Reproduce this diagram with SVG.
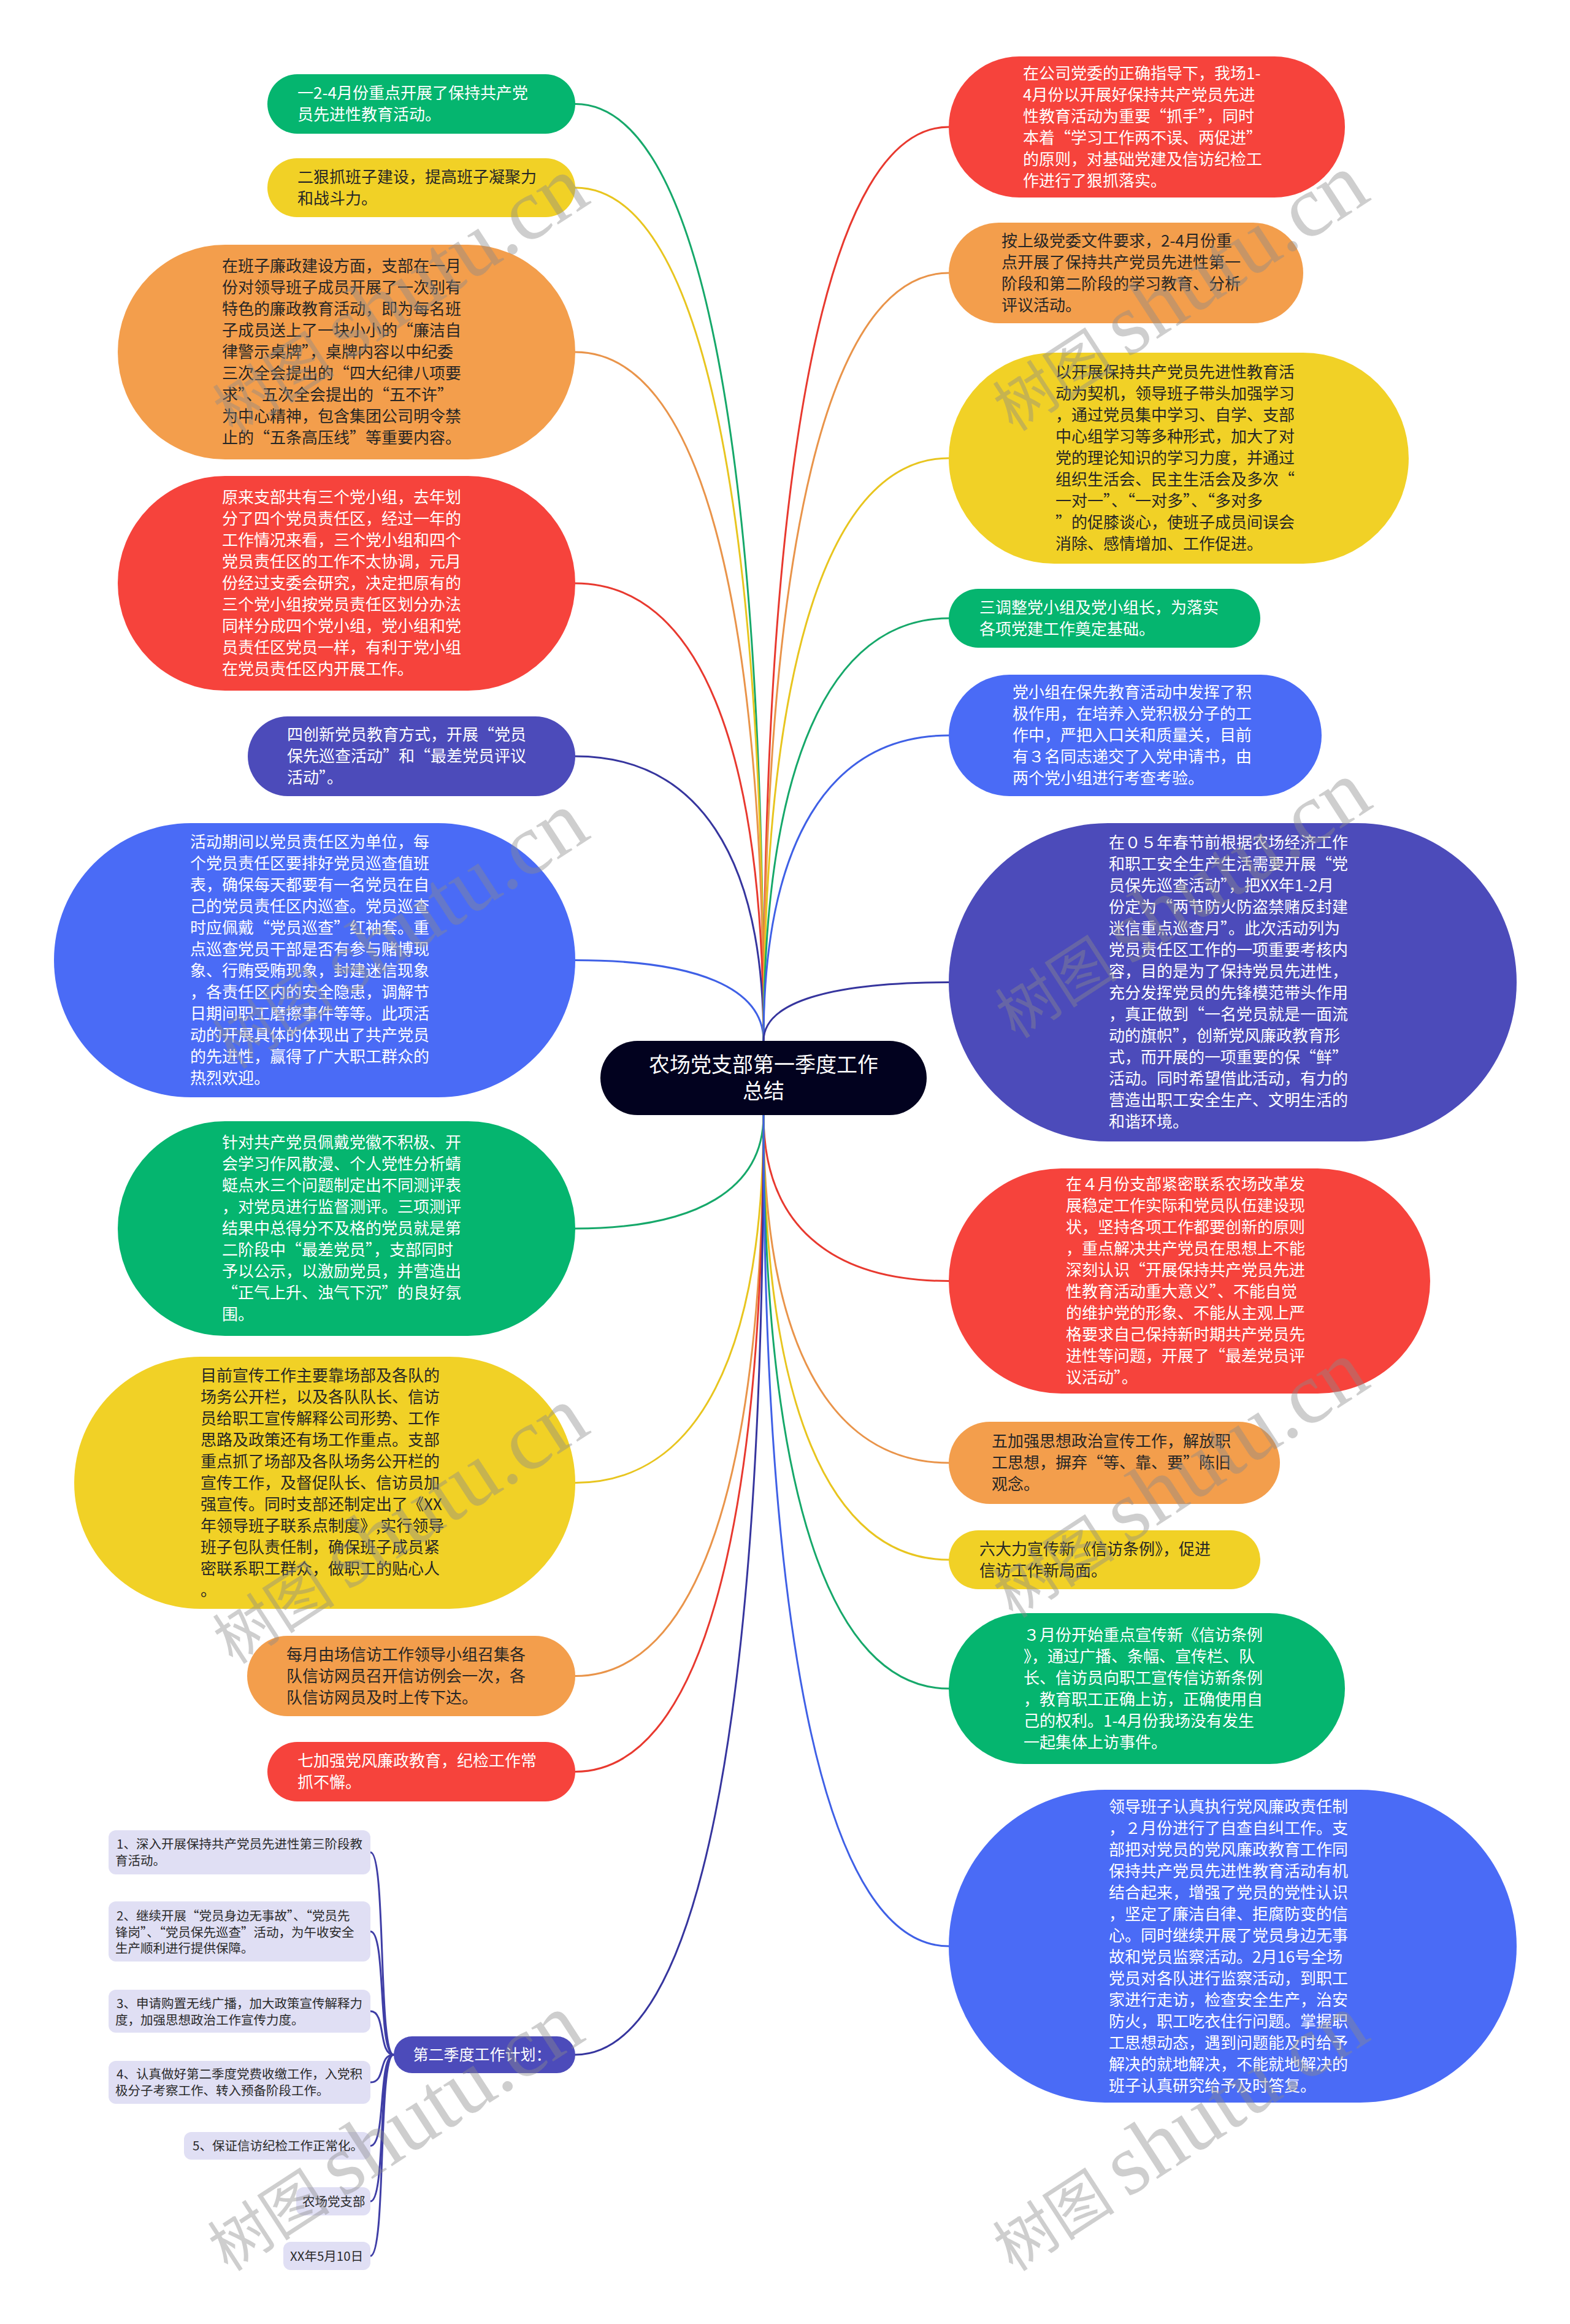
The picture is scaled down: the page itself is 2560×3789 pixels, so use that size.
<svg xmlns="http://www.w3.org/2000/svg" width="2560" height="3789" viewBox="0 0 2560 3789">
<style>
.t{font-family:"Noto Sans CJK SC","Noto Sans",sans-serif;font-size:26px}
.s{font-family:"Noto Sans CJK SC","Noto Sans",sans-serif;font-size:20.5px;fill:#2a2a2a}
.w{fill:#ffffff}
.d{fill:#262626}
.c{fill:none;stroke-width:3;stroke-linecap:round}
.wm{font-family:"Liberation Serif","Noto Sans CJK SC",serif;fill:#8a8a8a;fill-opacity:0.42}
</style>
<rect width="2560" height="3789" fill="#ffffff"/>
<g id="connectors">
<path class="c" stroke="#16a86a" d="M938,169.5 C1137.5,169.5 1245,704.1 1245,1697"/>
<path class="c" stroke="#e8c51f" d="M938,306 C1137.5,306 1245,792.9 1245,1697"/>
<path class="c" stroke="#e9944a" d="M938,574 C1137.5,574 1245,967 1245,1697"/>
<path class="c" stroke="#e8392f" d="M938,951 C1137.5,951 1245,1212 1245,1697"/>
<path class="c" stroke="#36359e" d="M938,1233 C1137.5,1233 1245,1395.4 1245,1697"/>
<path class="c" stroke="#3f60e6" d="M938,1565.5 C1137.5,1565.5 1245,1611.5 1245,1697"/>
<path class="c" stroke="#16a86a" d="M938,2003 C1137.5,2003 1245,1938.3 1245,1818"/>
<path class="c" stroke="#e8c51f" d="M938,2417.5 C1137.5,2417.5 1245,2207.7 1245,1818"/>
<path class="c" stroke="#e9944a" d="M938,2732.5 C1137.5,2732.5 1245,2412.4 1245,1818"/>
<path class="c" stroke="#e8392f" d="M938,2888.5 C1137.5,2888.5 1245,2513.8 1245,1818"/>
<path class="c" stroke="#36359e" d="M938,3350 C1137.5,3350 1245,2813.8 1245,1818"/>
<path class="c" stroke="#e8392f" d="M1547,207 C1351,207 1245,728.5 1245,1697"/>
<path class="c" stroke="#e9944a" d="M1547,445 C1351,445 1245,883.2 1245,1697"/>
<path class="c" stroke="#e8c51f" d="M1547,747 C1351,747 1245,1079.5 1245,1697"/>
<path class="c" stroke="#16a86a" d="M1547,1008 C1351,1008 1245,1249.2 1245,1697"/>
<path class="c" stroke="#3f60e6" d="M1547,1199 C1351,1199 1245,1373.3 1245,1697"/>
<path class="c" stroke="#36359e" d="M1547,1601.5 C1351,1601.5 1245,1634.9 1245,1697"/>
<path class="c" stroke="#e8392f" d="M1547,2088.5 C1351,2088.5 1245,1993.8 1245,1818"/>
<path class="c" stroke="#e9944a" d="M1547,2385 C1351,2385 1245,2186.5 1245,1818"/>
<path class="c" stroke="#e8c51f" d="M1547,2543 C1351,2543 1245,2289.2 1245,1818"/>
<path class="c" stroke="#16a86a" d="M1547,2753 C1351,2753 1245,2425.7 1245,1818"/>
<path class="c" stroke="#3f60e6" d="M1547,3173 C1351,3173 1245,2698.7 1245,1818"/>
<path class="c" stroke="#3f3ea6" d="M642,3350 C616,3350 630,3020 604,3020"/>
<path class="c" stroke="#3f3ea6" d="M642,3350 C616,3350 630,3149 604,3149"/>
<path class="c" stroke="#3f3ea6" d="M642,3350 C616,3350 630,3279 604,3279"/>
<path class="c" stroke="#3f3ea6" d="M642,3350 C616,3350 630,3395 604,3395"/>
<path class="c" stroke="#3f3ea6" d="M642,3350 C616,3350 630,3498.5 604,3498.5"/>
<path class="c" stroke="#3f3ea6" d="M642,3350 C616,3350 630,3589 604,3589"/>
<path class="c" stroke="#3f3ea6" d="M642,3350 C616,3350 630,3678 604,3678"/>
</g>
<g id="center">
<rect x="979" y="1697" width="532" height="121" rx="60.5" fill="#02021f"/>
<text x="1245" y="1748" font-family="Noto Sans CJK SC, sans-serif" font-size="34" fill="#fff" text-anchor="middle"><tspan x="1245" y="1748">农场党支部第一季度工作</tspan><tspan x="1245" y="1791">总结</tspan></text>
</g>
<g id="l1">
<rect x="436" y="121" width="502" height="97" rx="48.5" fill="#05b56f"/>
<text class="t w"><tspan x="485" y="161">一2-4月份重点开展了保持共产党</tspan><tspan x="485" y="196">员先进性教育活动。</tspan></text>
</g>
<g id="l2">
<rect x="436" y="258" width="502" height="96" rx="48" fill="#f1d126"/>
<text class="t d"><tspan x="485" y="297.5">二狠抓班子建设，提高班子凝聚力</tspan><tspan x="485" y="332.5">和战斗力。</tspan></text>
</g>
<g id="l3">
<rect x="192" y="399" width="746" height="350" rx="175" fill="#f39e4c"/>
<text class="t d"><tspan x="362" y="443">在班子廉政建设方面，支部在一月</tspan><tspan x="362" dy="35">份对领导班子成员开展了一次别有</tspan><tspan x="362" dy="35">特色的廉政教育活动，即为每名班</tspan><tspan x="362" dy="35">子成员送上了一块小小的“廉洁自</tspan><tspan x="362" dy="35">律警示桌牌”，桌牌内容以中纪委</tspan><tspan x="362" dy="35">三次全会提出的“四大纪律八项要</tspan><tspan x="362" dy="35">求”、五次全会提出的“五不许”</tspan><tspan x="362" dy="35">为中心精神，包含集团公司明令禁</tspan><tspan x="362" dy="35">止的“五条高压线”等重要内容。</tspan></text>
</g>
<g id="l4">
<rect x="192" y="776" width="746" height="350" rx="175" fill="#f6433c"/>
<text class="t w"><tspan x="362" y="820">原来支部共有三个党小组，去年划</tspan><tspan x="362" dy="35">分了四个党员责任区，经过一年的</tspan><tspan x="362" dy="35">工作情况来看，三个党小组和四个</tspan><tspan x="362" dy="35">党员责任区的工作不太协调，元月</tspan><tspan x="362" dy="35">份经过支委会研究，决定把原有的</tspan><tspan x="362" dy="35">三个党小组按党员责任区划分办法</tspan><tspan x="362" dy="35">同样分成四个党小组，党小组和党</tspan><tspan x="362" dy="35">员责任区党员一样，有利于党小组</tspan><tspan x="362" dy="35">在党员责任区内开展工作。</tspan></text>
</g>
<g id="l5">
<rect x="404" y="1168" width="534" height="130" rx="65" fill="#4c4bba"/>
<text class="t w"><tspan x="468" y="1207">四创新党员教育方式，开展“党员</tspan><tspan x="468" dy="35">保先巡查活动”和“最差党员评议</tspan><tspan x="468" dy="35">活动”。</tspan></text>
</g>
<g id="l6">
<rect x="88" y="1342" width="850" height="447" rx="223.5" fill="#4a6bf6"/>
<text class="t w"><tspan x="310" y="1382">活动期间以党员责任区为单位，每</tspan><tspan x="310" dy="35">个党员责任区要排好党员巡查值班</tspan><tspan x="310" dy="35">表，确保每天都要有一名党员在自</tspan><tspan x="310" dy="35">己的党员责任区内巡查。党员巡查</tspan><tspan x="310" dy="35">时应佩戴“党员巡查”红袖套。重</tspan><tspan x="310" dy="35">点巡查党员干部是否有参与赌博现</tspan><tspan x="310" dy="35">象、行贿受贿现象，封建迷信现象</tspan><tspan x="310" dy="35">，各责任区内的安全隐患，调解节</tspan><tspan x="310" dy="35">日期间职工磨擦事件等等。此项活</tspan><tspan x="310" dy="35">动的开展具体的体现出了共产党员</tspan><tspan x="310" dy="35">的先进性，赢得了广大职工群众的</tspan><tspan x="310" dy="35">热烈欢迎。</tspan></text>
</g>
<g id="l7">
<rect x="192" y="1828" width="746" height="350" rx="175" fill="#05b56f"/>
<text class="t w"><tspan x="362" y="1872">针对共产党员佩戴党徽不积极、开</tspan><tspan x="362" dy="35">会学习作风散漫、个人党性分析蜻</tspan><tspan x="362" dy="35">蜓点水三个问题制定出不同测评表</tspan><tspan x="362" dy="35">，对党员进行监督测评。三项测评</tspan><tspan x="362" dy="35">结果中总得分不及格的党员就是第</tspan><tspan x="362" dy="35">二阶段中“最差党员”，支部同时</tspan><tspan x="362" dy="35">予以公示，以激励党员，并营造出</tspan><tspan x="362" dy="35">“正气上升、浊气下沉”的良好氛</tspan><tspan x="362" dy="35">围。</tspan></text>
</g>
<g id="l8">
<rect x="121" y="2212" width="817" height="411" rx="205.5" fill="#f1d126"/>
<text class="t d"><tspan x="327" y="2251.5">目前宣传工作主要靠场部及各队的</tspan><tspan x="327" dy="35">场务公开栏，以及各队队长、信访</tspan><tspan x="327" dy="35">员给职工宣传解释公司形势、工作</tspan><tspan x="327" dy="35">思路及政策还有场工作重点。支部</tspan><tspan x="327" dy="35">重点抓了场部及各队场务公开栏的</tspan><tspan x="327" dy="35">宣传工作，及督促队长、信访员加</tspan><tspan x="327" dy="35">强宣传。同时支部还制定出了《XX</tspan><tspan x="327" dy="35">年领导班子联系点制度》,实行领导</tspan><tspan x="327" dy="35">班子包队责任制，确保班子成员紧</tspan><tspan x="327" dy="35">密联系职工群众，做职工的贴心人</tspan><tspan x="327" dy="35">。</tspan></text>
</g>
<g id="l9">
<rect x="403" y="2667" width="535" height="131" rx="65.5" fill="#f39e4c"/>
<text class="t d"><tspan x="467" y="2706.5">每月由场信访工作领导小组召集各</tspan><tspan x="467" dy="35">队信访网员召开信访例会一次，各</tspan><tspan x="467" dy="35">队信访网员及时上传下达。</tspan></text>
</g>
<g id="l10">
<rect x="436" y="2840" width="502" height="97" rx="48.5" fill="#f6433c"/>
<text class="t w"><tspan x="485" y="2880">七加强党风廉政教育，纪检工作常</tspan><tspan x="485" dy="35">抓不懈。</tspan></text>
</g>
<g id="plan">
<rect x="642" y="3320" width="296" height="60" rx="30" fill="#4c4bba"/>
<text x="786" y="3359" font-family="Noto Sans CJK SC, sans-serif" font-size="25" fill="#fff" text-anchor="middle">第二季度工作计划：</text>
</g>
<g id="p1">
<rect x="177" y="2984" width="427" height="72" rx="12" fill="#e0dff4"/>
<text class="s"><tspan x="190" y="3014">1、深入开展保持共产党员先进性第三阶段教</tspan><tspan x="188" dy="27">育活动。</tspan></text>
</g>
<g id="p2">
<rect x="177" y="3100" width="427" height="98" rx="12" fill="#e0dff4"/>
<text class="s"><tspan x="190" y="3131">2、继续开展“党员身边无事故”、“党员先</tspan><tspan x="188" dy="26.5">锋岗”、“党员保先巡查”活动，为午收安全</tspan><tspan x="188" dy="26.5">生产顺利进行提供保障。</tspan></text>
</g>
<g id="p3">
<rect x="177" y="3244" width="427" height="70" rx="12" fill="#e0dff4"/>
<text class="s"><tspan x="190" y="3274">3、申请购置无线广播，加大政策宣传解释力</tspan><tspan x="188" dy="26.5">度，加强思想政治工作宣传力度。</tspan></text>
</g>
<g id="p4">
<rect x="177" y="3360" width="427" height="70" rx="12" fill="#e0dff4"/>
<text class="s"><tspan x="190" y="3389">4、认真做好第二季度党费收缴工作，入党积</tspan><tspan x="188" dy="26.5">极分子考察工作、转入预备阶段工作。</tspan></text>
</g>
<g id="p5">
<rect x="300" y="3476" width="304" height="45" rx="12" fill="#e0dff4"/>
<text class="s" x="314" y="3506">5、保证信访纪检工作正常化。</text>
</g>
<g id="p6">
<rect x="483" y="3566" width="121" height="46" rx="12" fill="#e0dff4"/>
<text class="s" x="493" y="3597">农场党支部</text>
</g>
<g id="p7">
<rect x="462" y="3655" width="142" height="46" rx="12" fill="#e0dff4"/>
<text class="s" x="473" y="3686">XX年5月10日</text>
</g>
<g id="r1">
<rect x="1547" y="92" width="646" height="230" rx="115" fill="#f6433c"/>
<text class="t w"><tspan x="1668" y="128.5">在公司党委的正确指导下，我场1-</tspan><tspan x="1668" dy="35">4月份以开展好保持共产党员先进</tspan><tspan x="1668" dy="35">性教育活动为重要“抓手”，同时</tspan><tspan x="1668" dy="35">本着“学习工作两不误、两促进”</tspan><tspan x="1668" dy="35">的原则，对基础党建及信访纪检工</tspan><tspan x="1668" dy="35">作进行了狠抓落实。</tspan></text>
</g>
<g id="r2">
<rect x="1547" y="363" width="578" height="164" rx="82" fill="#f39e4c"/>
<text class="t d"><tspan x="1633" y="401.5">按上级党委文件要求，2-4月份重</tspan><tspan x="1633" dy="35">点开展了保持共产党员先进性第一</tspan><tspan x="1633" dy="35">阶段和第二阶段的学习教育、分析</tspan><tspan x="1633" dy="35">评议活动。</tspan></text>
</g>
<g id="r3">
<rect x="1547" y="575" width="750" height="344" rx="172" fill="#f1d126"/>
<text class="t d"><tspan x="1721" y="616">以开展保持共产党员先进性教育活</tspan><tspan x="1721" dy="35">动为契机，领导班子带头加强学习</tspan><tspan x="1721" dy="35">，通过党员集中学习、自学、支部</tspan><tspan x="1721" dy="35">中心组学习等多种形式，加大了对</tspan><tspan x="1721" dy="35">党的理论知识的学习力度，并通过</tspan><tspan x="1721" dy="35">组织生活会、民主生活会及多次“</tspan><tspan x="1721" dy="35">一对一”、“一对多”、“多对多</tspan><tspan x="1721" dy="35">”的促膝谈心，使班子成员间误会</tspan><tspan x="1721" dy="35">消除、感情增加、工作促进。</tspan></text>
</g>
<g id="r4">
<rect x="1547" y="960" width="508" height="96" rx="48" fill="#05b56f"/>
<text class="t w"><tspan x="1597" y="999.5">三调整党小组及党小组长，为落实</tspan><tspan x="1597" dy="35">各项党建工作奠定基础。</tspan></text>
</g>
<g id="r5">
<rect x="1547" y="1100" width="608" height="198" rx="99" fill="#4a6bf6"/>
<text class="t w"><tspan x="1651" y="1138">党小组在保先教育活动中发挥了积</tspan><tspan x="1651" dy="35">极作用，在培养入党积极分子的工</tspan><tspan x="1651" dy="35">作中，严把入口关和质量关，目前</tspan><tspan x="1651" dy="35">有３名同志递交了入党申请书，由</tspan><tspan x="1651" dy="35">两个党小组进行考查考验。</tspan></text>
</g>
<g id="r6">
<rect x="1547" y="1342" width="926" height="519" rx="259.5" fill="#4c4bba"/>
<text class="t w"><tspan x="1808" y="1383">在０５年春节前根据农场经济工作</tspan><tspan x="1808" dy="35">和职工安全生产生活需要开展“党</tspan><tspan x="1808" dy="35">员保先巡查活动”，把XX年1-2月</tspan><tspan x="1808" dy="35">份定为“两节防火防盗禁赌反封建</tspan><tspan x="1808" dy="35">迷信重点巡查月”。此次活动列为</tspan><tspan x="1808" dy="35">党员责任区工作的一项重要考核内</tspan><tspan x="1808" dy="35">容，目的是为了保持党员先进性，</tspan><tspan x="1808" dy="35">充分发挥党员的先锋模范带头作用</tspan><tspan x="1808" dy="35">，真正做到“一名党员就是一面流</tspan><tspan x="1808" dy="35">动的旗帜”，创新党风廉政教育形</tspan><tspan x="1808" dy="35">式，而开展的一项重要的保“鲜”</tspan><tspan x="1808" dy="35">活动。同时希望借此活动，有力的</tspan><tspan x="1808" dy="35">营造出职工安全生产、文明生活的</tspan><tspan x="1808" dy="35">和谐环境。</tspan></text>
</g>
<g id="r7">
<rect x="1547" y="1905" width="785" height="367" rx="183.5" fill="#f6433c"/>
<text class="t w"><tspan x="1738" y="1940">在４月份支部紧密联系农场改革发</tspan><tspan x="1738" dy="35">展稳定工作实际和党员队伍建设现</tspan><tspan x="1738" dy="35">状，坚持各项工作都要创新的原则</tspan><tspan x="1738" dy="35">，重点解决共产党员在思想上不能</tspan><tspan x="1738" dy="35">深刻认识“开展保持共产党员先进</tspan><tspan x="1738" dy="35">性教育活动重大意义”、不能自觉</tspan><tspan x="1738" dy="35">的维护党的形象、不能从主观上严</tspan><tspan x="1738" dy="35">格要求自己保持新时期共产党员先</tspan><tspan x="1738" dy="35">进性等问题，开展了“最差党员评</tspan><tspan x="1738" dy="35">议活动”。</tspan></text>
</g>
<g id="r8">
<rect x="1547" y="2318" width="540" height="134" rx="67" fill="#f39e4c"/>
<text class="t d"><tspan x="1617" y="2359">五加强思想政治宣传工作，解放职</tspan><tspan x="1617" dy="35">工思想，摒弃“等、靠、要”陈旧</tspan><tspan x="1617" dy="35">观念。</tspan></text>
</g>
<g id="r9">
<rect x="1547" y="2495" width="508" height="96" rx="48" fill="#f1d126"/>
<text class="t d"><tspan x="1597" y="2534.5">六大力宣传新《信访条例》，促进</tspan><tspan x="1597" dy="35">信访工作新局面。</tspan></text>
</g>
<g id="r10">
<rect x="1547" y="2630" width="646" height="246" rx="123" fill="#05b56f"/>
<text class="t w"><tspan x="1669" y="2674.5">３月份开始重点宣传新《信访条例</tspan><tspan x="1669" dy="35">》，通过广播、条幅、宣传栏、队</tspan><tspan x="1669" dy="35">长、信访员向职工宣传信访新条例</tspan><tspan x="1669" dy="35">，教育职工正确上访，正确使用自</tspan><tspan x="1669" dy="35">己的权利。1-4月份我场没有发生</tspan><tspan x="1669" dy="35">一起集体上访事件。</tspan></text>
</g>
<g id="r11">
<rect x="1547" y="2918" width="926" height="510" rx="255" fill="#4a6bf6"/>
<text class="t w"><tspan x="1808" y="2954.5">领导班子认真执行党风廉政责任制</tspan><tspan x="1808" dy="35">，２月份进行了自查自纠工作。支</tspan><tspan x="1808" dy="35">部把对党员的党风廉政教育工作同</tspan><tspan x="1808" dy="35">保持共产党员先进性教育活动有机</tspan><tspan x="1808" dy="35">结合起来，增强了党员的党性认识</tspan><tspan x="1808" dy="35">，坚定了廉洁自律、拒腐防变的信</tspan><tspan x="1808" dy="35">心。同时继续开展了党员身边无事</tspan><tspan x="1808" dy="35">故和党员监察活动。2月16号全场</tspan><tspan x="1808" dy="35">党员对各队进行监察活动，到职工</tspan><tspan x="1808" dy="35">家进行走访，检查安全生产，治安</tspan><tspan x="1808" dy="35">防火，职工吃衣住行问题。掌握职</tspan><tspan x="1808" dy="35">工思想动态，遇到问题能及时给予</tspan><tspan x="1808" dy="35">解决的就地解决，不能就地解决的</tspan><tspan x="1808" dy="35">班子认真研究给予及时答复。</tspan></text>
</g>
<g id="watermarks">
<text class="wm" x="380" y="710" transform="rotate(-33 380 710)"><tspan font-size="100">树图</tspan><tspan font-size="142" dx="22">shutu.cn</tspan></text>
<text class="wm" x="380" y="1745" transform="rotate(-33 380 1745)"><tspan font-size="100">树图</tspan><tspan font-size="142" dx="22">shutu.cn</tspan></text>
<text class="wm" x="380" y="2715" transform="rotate(-33 380 2715)"><tspan font-size="100">树图</tspan><tspan font-size="142" dx="22">shutu.cn</tspan></text>
<text class="wm" x="372" y="3705" transform="rotate(-33 372 3705)"><tspan font-size="100">树图</tspan><tspan font-size="142" dx="22">shutu.cn</tspan></text>
<text class="wm" x="1652" y="705" transform="rotate(-33 1652 705)"><tspan font-size="100">树图</tspan><tspan font-size="142" dx="22">shutu.cn</tspan></text>
<text class="wm" x="1656" y="1695" transform="rotate(-33 1656 1695)"><tspan font-size="100">树图</tspan><tspan font-size="142" dx="22">shutu.cn</tspan></text>
<text class="wm" x="1652" y="2640" transform="rotate(-33 1652 2640)"><tspan font-size="100">树图</tspan><tspan font-size="142" dx="22">shutu.cn</tspan></text>
<text class="wm" x="1652" y="3705" transform="rotate(-33 1652 3705)"><tspan font-size="100">树图</tspan><tspan font-size="142" dx="22">shutu.cn</tspan></text>
</g>
</svg>
